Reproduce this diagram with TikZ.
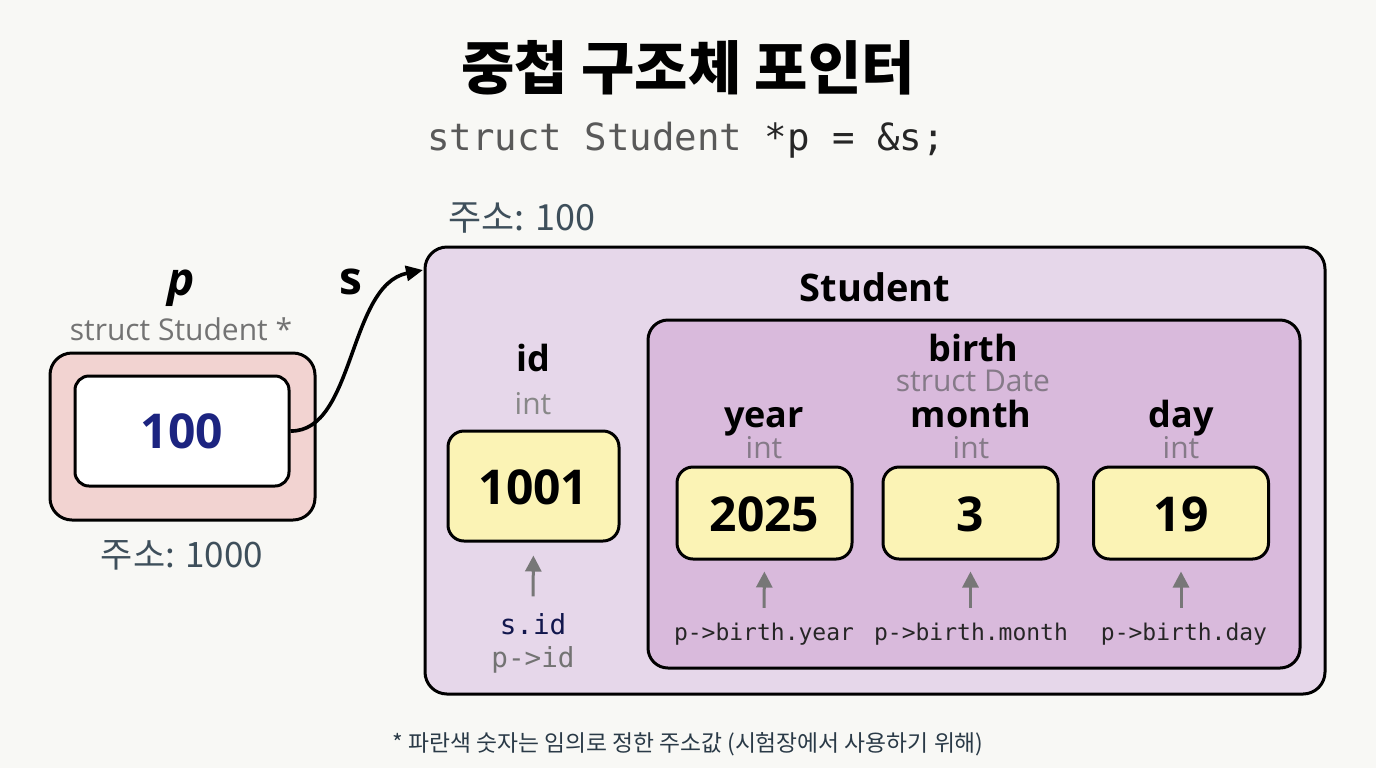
\documentclass[tikz,border=0pt]{standalone}
\usepackage{fontspec}
\setmainfont{Open Sans}
\setmonofont{DejaVu Sans Mono}
\newfontfamily\kr{Noto Sans CJK KR}
\usetikzlibrary{arrows.meta}

\definecolor{fondo}{HTML}{F8F8F5}
\definecolor{rosa}{HTML}{F2D3D1}
\definecolor{lila}{HTML}{E6D7EA}
\definecolor{malva}{HTML}{D9BADC}
\definecolor{amarillo}{HTML}{FBF3B5}
\definecolor{marino}{HTML}{1C2480}
\definecolor{pizarra}{HTML}{3E4F5B}
\definecolor{notacolor}{HTML}{2A3A47}
\definecolor{gris}{HTML}{888888}
\definecolor{grismalva}{HTML}{857A88}
\definecolor{flechagris}{HTML}{777777}

\newcommand{\fsz}[1]{\fontsize{#1pt}{#1pt}\selectfont}

\begin{document}
\begin{tikzpicture}[x=0.5pt,y=-0.5pt,
    caja/.style={draw=black, line width=1.5pt, inner sep=0pt},
    valor/.style={caja, fill=amarillo, rounded corners=8pt,
      minimum width=87.5pt, minimum height=46pt},
    campo/.style={font=\fsz{18}\bfseries, anchor=base},
    tipo/.style={font=\fsz{15}, text=gris},
    acceso/.style={font=\ttfamily\fsz{11.5}, text=black!85},
    flecha/.style={-{Triangle[length=8pt,width=8pt]}, line width=1.5pt, draw=flechagris}]

    % Fondo
    \fill[fondo] (0,0) rectangle (1376,768);
    \useasboundingbox (0,0) rectangle (1376,768);

    % Titulo y codigo
    \node (titulo) at (688,68) {\kr\fsz{29}\bfseries 중첩 구조체 포인터};
    \node (codigo) at (686,140) {\ttfamily\fsz{18.7}\textcolor{black!65}{struct Student} \textcolor{black!85}{*p = \&s;}};

    % Puntero p
    \node (ptipo) at (181,329) {\fsz{15}\textcolor{black!55}{struct Student *}};
    \node (pnombre) at (181,288) {\fsz{23}\bfseries\itshape p};
    \node[caja, fill=rosa, rounded corners=11pt, minimum width=132.5pt, minimum height=83.5pt] (pext) at (182.5,436.5) {};
    \node[caja, fill=white, rounded corners=7pt, minimum width=107pt, minimum height=55pt] (pint) at (182,431) {};
    \node[text=marino, font=\fsz{24}\bfseries] (pval) at (182,431) {100};
    \node[text=pizarra, font=\kr\fsz{17.5}] (pdir) at (182,555) {주소: 1000};

    % Estructura s
    \node[caja, fill=lila, rounded corners=11pt, minimum width=450pt, minimum height=223.5pt] (est) at (875,470.5) {};
    \node[text=pizarra, font=\kr\fsz{18}, anchor=west] (sdir) at (441,218) {주소: 100};
    \node[campo, font=\fsz{19}\bfseries] (estnombre) at (875,301) {Student};

    % Campo id
    \node[campo] (idnombre) at (533,371) {id};
    \node[tipo] (idtipo) at (533,404) {int};
    \node[caja, fill=amarillo, rounded corners=8pt, minimum width=85.5pt, minimum height=55pt] (idcaja) at (533.5,486) {};
    \node[font=\fsz{24}\bfseries] (idval) at (533.5,487) {1001};
    \node[font=\ttfamily\fsz{13.8}, text=marino!60!black] (sid) at (533,624) {s.id};
    \node[font=\ttfamily\fsz{13.8}, text=black!55] (pid) at (533,660) {p->id};
    \draw[flecha, shorten <=5pt, shorten >=6.5pt] (sid.north) -- (idcaja.south);

    % Estructura anidada birth
    \node[caja, fill=malva, rounded corners=10pt, minimum width=326pt, minimum height=174pt] (birth) at (974,494) {};
    \node[campo] (birthnombre) at (973,361) {birth};
    \node[tipo, text=grismalva] (birthtipo) at (973,381) {struct Date};

    % year, month, day
    \node[campo] (yearnombre) at (764,427) {year};
    \node[tipo, text=grismalva] (yeartipo) at (764,448) {int};
    \node[valor] (yearcaja) at (764.5,513) {};
    \node[font=\fsz{24}\bfseries] (yearval) at (764.5,514) {2025};
    \node[acceso] (yearacc) at (764,634) {p->birth.year};
    \draw[flecha, shorten <=4pt, shorten >=5.5pt] (yearacc.north) -- (yearcaja.south);

    \node[campo] (monthnombre) at (971,427) {month};
    \node[tipo, text=grismalva] (monthtipo) at (971,448) {int};
    \node[valor] (monthcaja) at (970.5,513) {};
    \node[font=\fsz{24}\bfseries] (monthval) at (970.5,514) {3};
    \node[acceso] (monthacc) at (971,634) {p->birth.month};
    \draw[flecha, shorten <=4pt, shorten >=5.5pt] (monthacc.north -| monthcaja.south) -- (monthcaja.south);

    \node[campo] (daynombre) at (1181,427) {day};
    \node[tipo, text=grismalva] (daytipo) at (1181,448) {int};
    \node[valor] (daycaja) at (1181,513) {};
    \node[font=\fsz{24}\bfseries] (dayval) at (1181,514) {19};
    \node[acceso] (dayacc) at (1184,634) {p->birth.day};
    \draw[flecha, shorten <=4pt, shorten >=5.5pt] (dayacc.north -| daycaja.south) -- (daycaja.south);

    % Flecha p -> s
    \coordinate (sentrada) at (423,270);
    \node[font=\fsz{23}\bfseries] (snombre) at (351,282) {s};
    \draw[-{Triangle[length=8.5pt,width=7.5pt]}, line width=1.8pt] (pint.east) .. controls (355,432) and (348,285) .. (sentrada);

    % Nota
    \node[text=notacolor, font=\kr\fsz{11.4}] (nota) at (688,744) {* 파란색 숫자는 임의로 정한 주소값 (시험장에서 사용하기 위해)};
\end{tikzpicture}
\end{document}
